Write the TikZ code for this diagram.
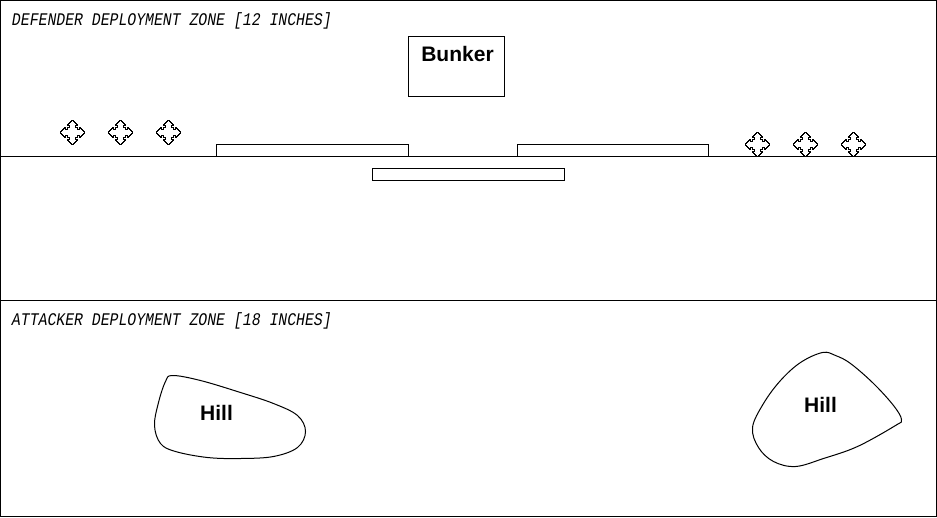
\documentclass[tikz,border=0pt]{standalone}
\usepackage{fontspec}
\setmainfont{Liberation Sans}
\setmonofont{Liberation Mono}
\newcommand{\crossmark}[2]{%
  \foreach \r in {0,90,180,270}
    \draw[shift={(#1,#2)},rotate=\r] (0,-12) -- (1,-12) -- (1,-11) -- (2,-11) -- (2,-10) -- (3,-10) -- (3,-9) -- (4,-9) -- (4,-8) -- (5,-8) -- (5,-7) -- (3,-7) -- (3,-5) -- (5,-5) -- (5,-3) -- (7,-3) -- (7,-5) -- (8,-5) -- (8,-4) -- (9,-4) -- (9,-3) -- (10,-3) -- (10,-2) -- (11,-2) -- (11,-1) -- (12,-1) -- (12,0);
}
\tikzset{
  zonelabel/.style={anchor=west, inner sep=0pt, yscale=1.2, font=\ttfamily\itshape\fontsize{14.8}{16}\selectfont},
  piecelabel/.style={inner sep=0pt, font=\bfseries\fontsize{21}{24}\selectfont}
}
\begin{document}
\begin{tikzpicture}[x=1pt, y=-1pt, line width=1pt, line join=miter]
\useasboundingbox (-0.5,-0.5) rectangle (936.5,516.5);

% table and zones
\draw (0,0) rectangle (936,516);
\draw (0,156) -- (936,156);
\draw (0,300) -- (936,300);
\node[zonelabel] (defender) at (11,20) {DEFENDER DEPLOYMENT ZONE [12 INCHES]};
\node[zonelabel] (attacker) at (11,320) {ATTACKER DEPLOYMENT ZONE [18 INCHES]};

% bunker
\draw (408,36) rectangle (504,96);
\node[piecelabel] (bunker) at (457,53) {Bunker};

% walls
\draw (216,156) -- (216,144) -- (408,144) -- (408,156);
\draw (517,156) -- (517,144) -- (708,144) -- (708,156);
\draw (372,168) rectangle (564,180);

% crosses
\foreach \x in {72,120,168} {\crossmark{\x}{132}}
\foreach \x in {757,805,853} {\crossmark{\x}{144}}

% hills
\draw plot[smooth cycle, tension=0.6] coordinates {(172,375) (200,380) (240,392) (273,403) (297,415) (305,431) (297,447) (273,456) (240,458) (207,457) (175,451) (160,443) (154,425) (158,402) (165,381)};
\node[piecelabel] (hillleft) at (216,412) {Hill};

\draw plot[smooth cycle, tension=0.6] coordinates {(822,352) (800,362) (780,380) (763,403) (752,427) (758,447) (773,461) (795,466) (823,458) (857,446) (895,425) (901,419) (893,405) (873,383) (850,363) (835,355)};
\node[piecelabel] (hillright) at (820,404) {Hill};
\end{tikzpicture}
\end{document}
